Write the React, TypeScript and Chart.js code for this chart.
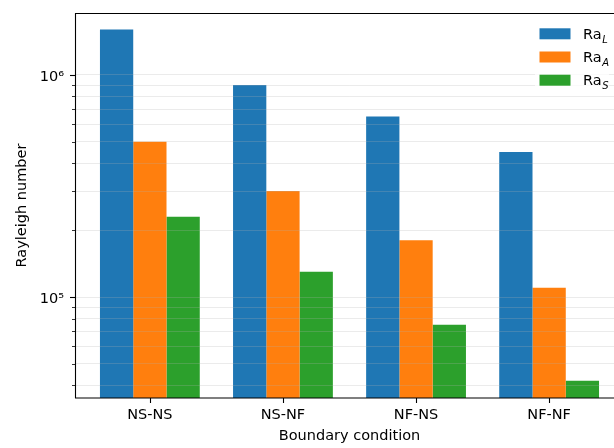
import { useEffect, useRef } from "react";
import { Chart, registerables } from "chart.js";

Chart.register(...registerables);

// Boundary-condition cases along the x axis
const categories = ["NS-NS", "NS-NF", "NF-NS", "NF-NF"];

// Rayleigh numbers per case
const raL = [1.6e6, 9.0e5, 6.5e5, 4.5e5];
const raA = [5.0e5, 3.0e5, 1.8e5, 1.1e5];
const raS = [2.3e5, 1.3e5, 7.5e4, 4.2e4];

// Legend labels: base text + italic subscript
const seriesBase = ["Ra", "Ra", "Ra"];
const seriesSub = ["L", "A", "S"];
const seriesColors = ["#1f77b4", "#ff7f0e", "#2ca02c"];

// Log-axis tick positions and the labelled decades
const yTicks = [
  4e4, 5e4, 6e4, 7e4, 8e4, 9e4,
  1e5, 2e5, 3e5, 4e5, 5e5, 6e5, 7e5, 8e5, 9e5,
  1e6,
];
const yTickLabels: Record<string, string> = {
  "100000": "10⁵",
  "1000000": "10⁶",
};

const FONT_FAMILY = '"DejaVu Sans", sans-serif';
const baseFont = { family: FONT_FAMILY, size: 14.5 };

// Keep the plot box exactly where the layout padding puts it
const clearScalePadding = (s: any) => {
  s.paddingTop = 0;
  s.paddingBottom = 0;
  s.paddingLeft = 0;
  s.paddingRight = 0;
};

const frameAndLegend = {
  id: "frameAndLegend",
  afterDraw(chart: any) {
    const { ctx, chartArea: a, scales } = chart;
    const x = scales.x;
    const y = scales.y;
    ctx.save();

    // y tick marks (major decades longer than minor)
    ctx.strokeStyle = "#000";
    yTicks.forEach((v) => {
      const py = Math.round(y.getPixelForValue(v)) + 0.5;
      const major = yTickLabels[String(v)] !== undefined;
      const len = major ? 5 : 3;
      ctx.lineWidth = major ? 1.1 : 0.8;
      ctx.beginPath();
      ctx.moveTo(a.left - len, py);
      ctx.lineTo(a.left, py);
      ctx.stroke();
    });

    // x tick marks at category centres
    ctx.lineWidth = 1.1;
    categories.forEach((_, i) => {
      const px = Math.round(x.getPixelForValue(i)) + 0.5;
      ctx.beginPath();
      ctx.moveTo(px, a.bottom);
      ctx.lineTo(px, a.bottom + 5);
      ctx.stroke();
    });

    // axes frame: left, top and bottom spines
    ctx.lineWidth = 1.1;
    ctx.strokeStyle = "#000";
    ctx.beginPath();
    ctx.moveTo(a.right, a.top + 0.5);
    ctx.lineTo(a.left + 0.5, a.top + 0.5);
    ctx.lineTo(a.left + 0.5, a.bottom);
    ctx.lineTo(a.right, a.bottom);
    ctx.stroke();

    // legend (upper right)
    ctx.fillStyle = "rgba(255,255,255,0.8)";
    ctx.beginPath();
    ctx.roundRect(535, 20, 74, 70, 3);
    ctx.fill();

    const rowStep = 23.2;
    seriesBase.forEach((label, i) => {
      const cy = 33.8 + i * rowStep;
      ctx.fillStyle = seriesColors[i];
      ctx.fillRect(539.5, cy - 5.5, 31, 11);

      ctx.fillStyle = "#000";
      ctx.textBaseline = "alphabetic";
      ctx.textAlign = "left";
      ctx.font = `14.5px ${FONT_FAMILY}`;
      const tx = 583;
      const base = cy + 5.2;
      ctx.fillText(label, tx, base);
      const w = ctx.measureText(label).width;
      ctx.font = `italic 10px ${FONT_FAMILY}`;
      ctx.fillText(seriesSub[i], tx + w + 0.5, base + 3.5);
    });

    ctx.restore();
  },
};

export default function App() {
  const canvasRef = useRef<HTMLCanvasElement | null>(null);

  useEffect(() => {
    document.body.style.margin = "0";
    const canvas = canvasRef.current;
    if (!canvas) return;

    const toPoints = (vals: number[]) => vals.map((v, i) => ({ x: i, y: v }));

    const chart = new Chart(canvas, {
      type: "bar",
      data: {
        datasets: [
          { label: "Ra_L", data: toPoints(raL), backgroundColor: seriesColors[0] },
          { label: "Ra_A", data: toPoints(raA), backgroundColor: seriesColors[1] },
          { label: "Ra_S", data: toPoints(raS), backgroundColor: seriesColors[2] },
        ],
      },
      options: {
        responsive: false,
        animation: false,
        events: [],
        layout: { padding: { top: 13, right: 16, left: 0, bottom: 0 } },
        datasets: {
          bar: { categoryPercentage: 0.75, barPercentage: 1.0, borderWidth: 0 },
        },
        plugins: {
          legend: { display: false },
          tooltip: { enabled: false },
        },
        scales: {
          x: {
            type: "linear",
            min: -0.5625,
            max: 3.5625,
            offset: false,
            afterBuildTicks: (s: any) => {
              s.ticks = categories.map((_, i) => ({ value: i }));
            },
            afterFit: (s: any) => {
              s.height = 50;
              clearScalePadding(s);
            },
            grid: { display: false, drawTicks: false },
            border: { display: false },
            ticks: {
              padding: 9,
              autoSkip: false,
              maxRotation: 0,
              color: "#000",
              font: baseFont,
              callback: (v: any) => categories[v] ?? "",
            },
            title: {
              display: true,
              text: "Boundary condition",
              color: "#000",
              font: baseFont,
              padding: { top: 0, bottom: 3 },
            },
          },
          y: {
            type: "logarithmic",
            min: 35100,
            max: 1.9e6,
            afterBuildTicks: (s: any) => {
              s.ticks = yTicks.map((v) => ({ value: v }));
            },
            afterFit: (s: any) => {
              s.width = 75;
              clearScalePadding(s);
            },
            grid: {
              z: 1,
              color: "rgba(176,176,176,0.25)",
              lineWidth: 1,
              drawTicks: false,
            },
            border: { display: false },
            ticks: {
              padding: 11,
              labelOffset: 2,
              autoSkip: false,
              color: "#000",
              font: baseFont,
              callback: (v: any) => yTickLabels[String(v)] ?? "",
            },
            title: {
              display: true,
              text: "Rayleigh number",
              color: "#000",
              font: baseFont,
              padding: { top: 14, bottom: 0 },
            },
          },
        },
      },
      plugins: [frameAndLegend],
    } as any);

    return () => chart.destroy();
  }, []);

  return (
    <div style={{ width: 614, height: 448, overflow: "hidden", position: "relative" }}>
      <canvas
        ref={canvasRef}
        width={640}
        height={448}
        style={{ display: "block", width: 640, height: 448 }}
      />
    </div>
  );
}
